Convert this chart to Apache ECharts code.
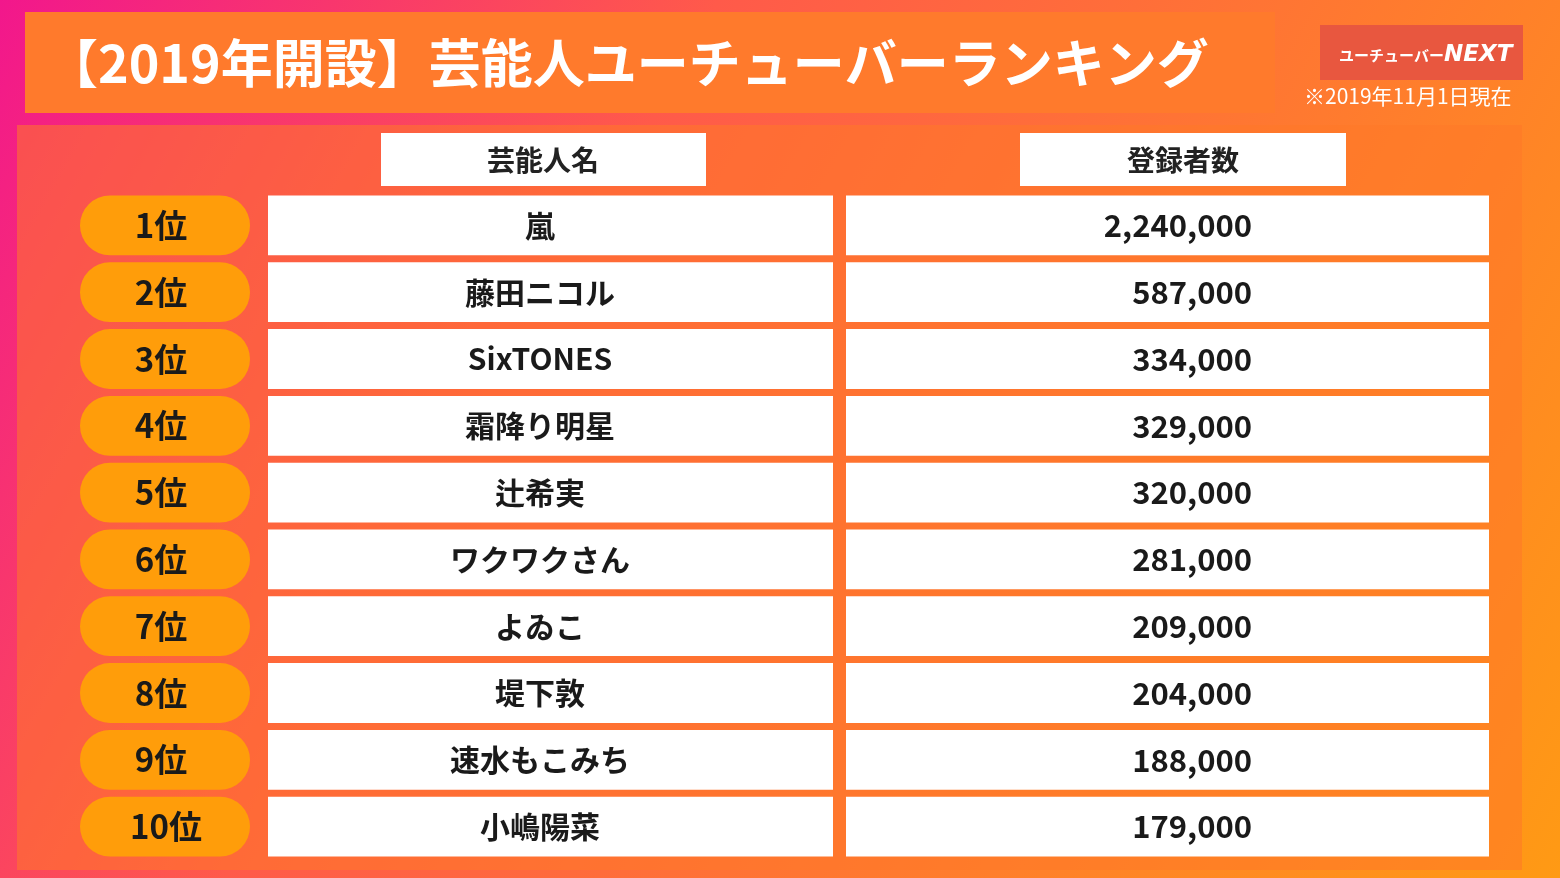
<!DOCTYPE html>
<html><head><meta charset="utf-8">
<script src="https://cdn.jsdelivr.net/npm/echarts@6/dist/echarts.min.js"></script>
<style>html,body{margin:0;padding:0}#app{width:1560px;height:878px}</style>
</head><body><div id="app"></div>
<script>
var ranks = ['1位', '2位', '3位', '4位', '5位', '6位', '7位', '8位', '9位', '10位']
var names = ['嵐', '藤田ニコル', 'SixTONES', '霜降り明星', '辻希実', 'ワクワクさん', 'よゐこ', '堤下敦', '速水もこみち', '小嶋陽菜']
var counts = [2240000, 587000, 334000, 329000, 320000, 281000, 209000, 204000, 188000, 179000]

var font = '"Noto Sans CJK JP", sans-serif'
var chart = echarts.init(document.getElementById('app'))

chart.setOption({
    backgroundColor: {
        type: 'linear', x: 0, y: 0, x2: 1, y2: 1,
        colorStops: [{offset: 0, color: '#f2178c'}, {offset: 0.35, color: '#ff5a4a'}, {offset: 1, color: '#ff9a14'}]
    },
    animation: false,
    graphic: [
        {type: 'rect', shape: {x: 17, y: 125, width: 1505, height: 745}, style: {fill: 'rgba(255,120,40,0.55)'}},
        {type: 'rect', shape: {x: 25, y: 12, width: 1250, height: 101}, style: {fill: '#ff7a2c'}},
        {type: 'text', x: 46, y: 63, style: {text: '【2019年開設】芸能人ユーチューバーランキング', font: 'bold 52px ' + font, fill: '#fff', textVerticalAlign: 'middle'}},
        {type: 'rect', shape: {x: 1320, y: 25, width: 203, height: 55}, style: {fill: '#e8573f'}},
        {type: 'text', x: 1339, y: 55, style: {text: 'ユーチューバー', font: 'bold 15px ' + font, fill: '#fff', textVerticalAlign: 'middle'}},
        {type: 'text', x: 1444, y: 55, style: {text: 'NEXT', font: 'italic 900 23px "DejaVu Sans", sans-serif', fill: '#fff', textVerticalAlign: 'middle'}},
        {type: 'text', x: 1304, y: 96, style: {text: '※2019年11月1日現在', font: '21px ' + font, fill: '#fff', textVerticalAlign: 'middle'}},
        {type: 'rect', shape: {x: 381, y: 133, width: 325, height: 53}, style: {fill: '#fff'}},
        {type: 'text', x: 543, y: 160, style: {text: '芸能人名', font: 'bold 28px ' + font, fill: '#222', textAlign: 'center', textVerticalAlign: 'middle'}},
        {type: 'rect', shape: {x: 1020, y: 133, width: 326, height: 53}, style: {fill: '#fff'}},
        {type: 'text', x: 1183, y: 160, style: {text: '登録者数', font: 'bold 28px ' + font, fill: '#222', textAlign: 'center', textVerticalAlign: 'middle'}}
    ],
    grid: {left: 0, right: 0, top: 192, bottom: 18},
    xAxis: {type: 'value', min: 0, max: 1560, show: false},
    yAxis: {type: 'category', data: ranks, inverse: true, show: false},
    series: [{
        type: 'custom',
        data: ranks.map((r, i) => [i, counts[i]]),
        encode: {y: 0},
        renderItem: (params, api) => {
            var i = api.value(0)
            var c = api.coord([0, i])
            var h = api.size([0, 1])[1] - 7
            var y = c[1] - h / 2
            var x = (v) => api.coord([v, i])[0]
            var txt = (t, tx, s) => ({type: 'text', style: {text: t, x: tx, y: c[1], font: 'bold ' + s + 'px ' + font, fill: '#1a1a1a', textAlign: 'center', textVerticalAlign: 'middle'}})
            return {type: 'group', children: [
                {type: 'rect', shape: {x: x(80), y: y, width: x(250) - x(80), height: h, r: h / 2}, style: {fill: '#ff9d0a'}},
                txt(ranks[i], i === 9 ? 166 : 161, 33),
                {type: 'rect', shape: {x: x(268), y: y, width: x(833) - x(268), height: h}, style: {fill: '#fff'}},
                txt(names[i], 540, 30),
                {type: 'rect', shape: {x: x(846), y: y, width: x(1489) - x(846), height: h}, style: {fill: '#fff'}},
                {type: 'text', style: {text: counts[i].toLocaleString('en-US'), x: 1252, y: c[1], font: 'bold 31px ' + font, fill: '#1a1a1a', textAlign: 'right', textVerticalAlign: 'middle'}}
            ]}
        }
    }]
})
</script>
</body></html>
